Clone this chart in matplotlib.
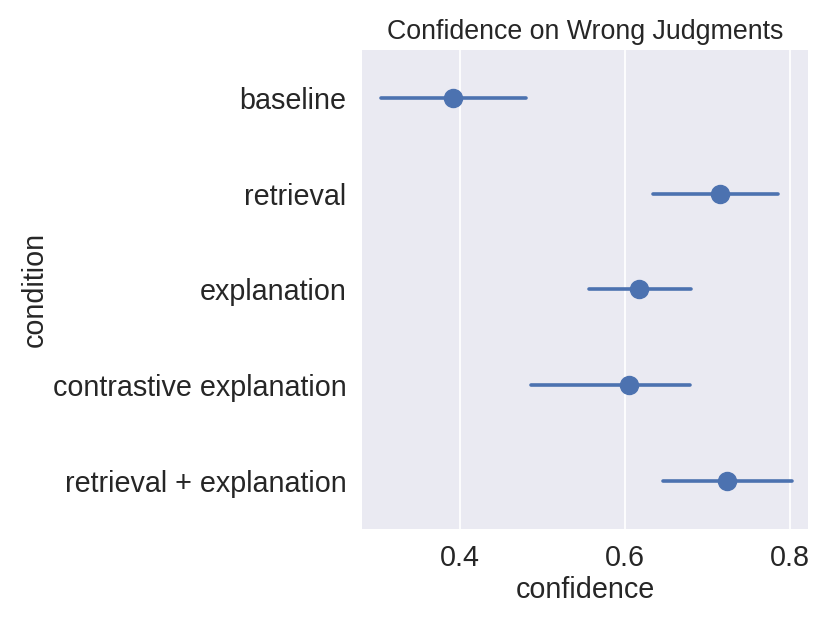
import numpy as np
import matplotlib
matplotlib.use("Agg")
import matplotlib.pyplot as plt

# values
conditions = ["baseline", "retrieval", "explanation",
              "contrastive explanation", "retrieval + explanation"]
mean_conf = [0.392, 0.715, 0.617, 0.605, 0.723]
ci_low = [0.304, 0.634, 0.556, 0.486, 0.646]
ci_high = [0.480, 0.785, 0.680, 0.678, 0.802]

plt.rcParams['font.family'] = ['Liberation Sans', 'DejaVu Sans']

fig = plt.figure(figsize=(8.3, 6.23), dpi=100)
ax = fig.add_axes([0.436, 0.151, 0.5375, 0.769])
ax.set_facecolor('#EAEAF2')
for s in ax.spines.values():
    s.set_visible(False)

y = np.arange(len(conditions))
mean_conf = np.array(mean_conf)
xerr = np.vstack([mean_conf - np.array(ci_low), np.array(ci_high) - mean_conf])

eb = ax.errorbar(mean_conf, y, xerr=xerr, fmt='o', color='#4C72B0',
                 markersize=13, elinewidth=2.6, capsize=0, zorder=3)
for lc in eb[2]:
    lc.set_capstyle('round')

ax.set_xlim(0.281, 0.8215)
ax.set_ylim(len(conditions) - 0.5, -0.5)
ax.set_xticks([0.4, 0.6, 0.8])
ax.set_xticklabels(['0.4', '0.6', '0.8'])
ax.set_yticks(y)
ax.set_yticklabels(conditions)
ax.tick_params(axis='both', length=0, labelsize=20.7, colors='#262626')
ax.tick_params(axis='y', pad=11)
ax.tick_params(axis='x', pad=11)
ax.grid(axis='x', color='white', linewidth=1.3)
ax.set_axisbelow(True)

ax.set_xlabel('confidence', fontsize=20.7, color='#262626', labelpad=3)
ax.set_ylabel('condition', fontsize=20.7, color='#262626', labelpad=3)
ax.set_title('Confidence on Wrong Judgments', fontsize=19.3, color='#262626', pad=8)

fig.savefig('out.png', dpi=100)
